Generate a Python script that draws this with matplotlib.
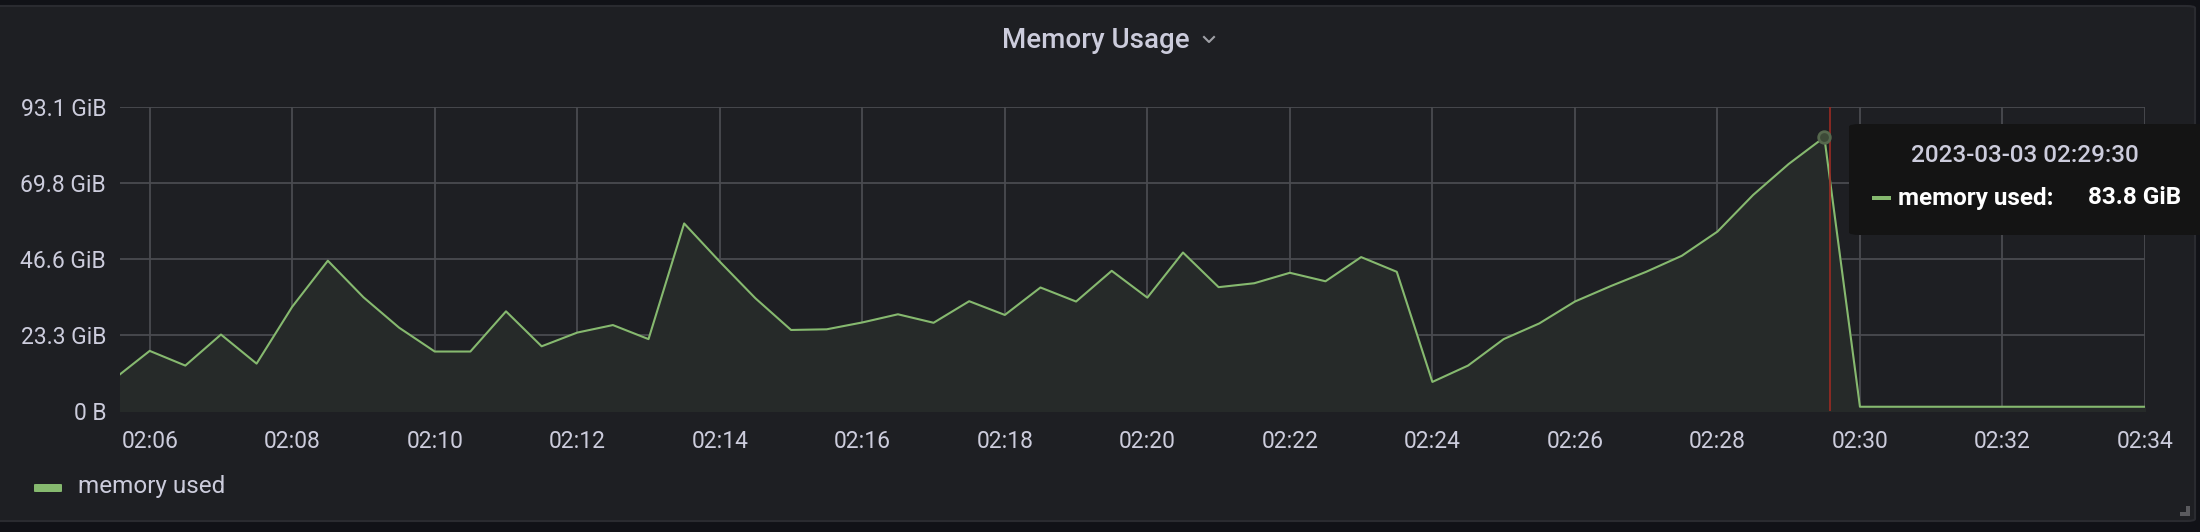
import numpy as np
import pandas as pd
import matplotlib
matplotlib.use("Agg")
import matplotlib.pyplot as plt
import matplotlib.dates as mdates
from matplotlib.patches import FancyBboxPatch, Rectangle

plt.rcParams['font.family'] = ['Roboto', 'DejaVu Sans']

# memory used (GiB), one sample every 30 s starting 02:05:30
start_time = "2023-03-03 02:05:30"
memory_gib = [9.8, 18.4, 13.9, 23.4, 14.5, 31.9, 46.0, 34.8, 25.5, 18.2,
              18.2, 30.5, 19.8, 24.0, 26.3, 22.0, 57.4, 45.7, 34.5, 24.8,
              25.0, 27.1, 29.6, 27.0, 33.6, 29.4, 37.8, 33.5, 42.9, 34.7,
              48.5, 37.9, 39.1, 42.3, 39.7, 47.1, 42.6, 8.9, 13.9, 22.0,
              26.8, 33.5, 38.2, 42.6, 47.5, 54.9, 66.1, 75.6, 83.8, 1.3,
              1.3, 1.3, 1.3, 1.3, 1.3, 1.3, 1.3, 1.3, 1.3]
y_ticks = [0, 23.28, 46.57, 69.85, 93.13]
y_labels = ["0 B", "23.3 GiB", "46.6 GiB", "69.8 GiB", "93.1 GiB"]
hover_time = "2023-03-03 02:29:30"
hover_value = 83.8
cursor_time = "2023-03-03 02:29:35"
series_name = "memory used"

times = pd.date_range(start_time, periods=len(memory_gib), freq="30s")

W, H = 2200, 532
BG_OUT = "#111217"
BG_PANEL = "#1e1f23"
TXT = "#ccccdc"
GREEN = "#86b96f"
GRID = "#4a4b50"


def fx(x):
    return x / W


def fy(y):
    return 1 - y / H


fig = plt.figure(figsize=(22, 5.32), dpi=100, facecolor=BG_OUT)

# panel background
fig.patches.append(FancyBboxPatch((fx(-10), fy(521)), fx(2205), 515 / H,
                                  boxstyle="round,pad=0,rounding_size=0.004",
                                  transform=fig.transFigure, facecolor=BG_PANEL,
                                  edgecolor="#2a2b30", linewidth=1.5, zorder=-10))

ax = fig.add_axes([fx(120), fy(411), fx(2025), 304.3 / H])
ax.set_facecolor(BG_PANEL)
ax.fill_between(times, memory_gib, 0, color="#262a29", zorder=1)
ax.plot(times, memory_gib, color=GREEN, linewidth=1.5, zorder=3)

ax.set_xlim(pd.Timestamp("2023-03-03 02:05:35"), pd.Timestamp("2023-03-03 02:34:00"))
ax.set_ylim(0, 93.13)
ax.set_yticks(y_ticks)
ax.set_yticklabels(y_labels)
ax.xaxis.set_major_locator(mdates.MinuteLocator(byminute=range(0, 60, 2)))
ax.xaxis.set_major_formatter(mdates.DateFormatter("%H:%M"))
ax.tick_params(axis="both", length=0, colors=TXT, labelsize=16.5)
ax.tick_params(axis="x", pad=14)
ax.tick_params(axis="y", pad=10)
ax.grid(True, color=GRID, linewidth=1.3, zorder=0)
ax.set_axisbelow(True)
for s in ax.spines.values():
    s.set_visible(False)

# hover cursor and marker
ax.axvline(pd.Timestamp(cursor_time), color="#9c2a22", linewidth=1.2, zorder=4)
ax.scatter([pd.Timestamp(hover_time)], [hover_value], s=70, facecolor="#3d4a37",
           edgecolor="#56684d", linewidth=2, zorder=5, clip_on=False)

# title with chevron
fig.text(fx(1096), fy(40), "Memory Usage", ha="center", va="center",
         color=TXT, fontsize=20, fontweight="medium")
fig.add_artist(plt.Line2D([fx(1204), fx(1209), fx(1214)], [fy(37), fy(42), fy(37)],
                          transform=fig.transFigure, color="#9fa0a6", linewidth=1.5))

# tooltip
fig.patches.append(FancyBboxPatch((fx(1849), fy(235)), fx(400), 111 / H,
                                  boxstyle="round,pad=0,rounding_size=0.005",
                                  transform=fig.transFigure, facecolor="#141414",
                                  edgecolor="none", zorder=10))
fig.text(fx(2025), fy(156), hover_time, ha="center", va="center", color=TXT,
         fontsize=17.5, fontweight="medium", zorder=11)
fig.patches.append(Rectangle((fx(1872), fy(200)), fx(19), 4 / H,
                             transform=fig.transFigure, facecolor=GREEN, zorder=11))
fig.text(fx(1898), fy(198), series_name + ":", ha="left", va="center", color="white",
         fontsize=17.5, fontweight="bold", zorder=11)
fig.text(fx(2181), fy(198), f"{hover_value} GiB", ha="right", va="center", color="white",
         fontsize=17.5, fontweight="bold", zorder=11)

# legend
fig.patches.append(FancyBboxPatch((fx(34), fy(492)), fx(28), 8 / H,
                                  boxstyle="round,pad=0,rounding_size=0.001",
                                  transform=fig.transFigure, facecolor=GREEN,
                                  edgecolor="none"))
fig.text(fx(78), fy(486), series_name, ha="left", va="center", color=TXT, fontsize=17.5)

# resize handle
fig.patches.append(Rectangle((fx(2180), fy(516)), fx(10), 4 / H,
                             transform=fig.transFigure, facecolor="#5a5a5e"))
fig.patches.append(Rectangle((fx(2186), fy(516)), fx(4), 10 / H,
                             transform=fig.transFigure, facecolor="#5a5a5e"))

fig.savefig("out.png", dpi=100, facecolor=BG_OUT)
